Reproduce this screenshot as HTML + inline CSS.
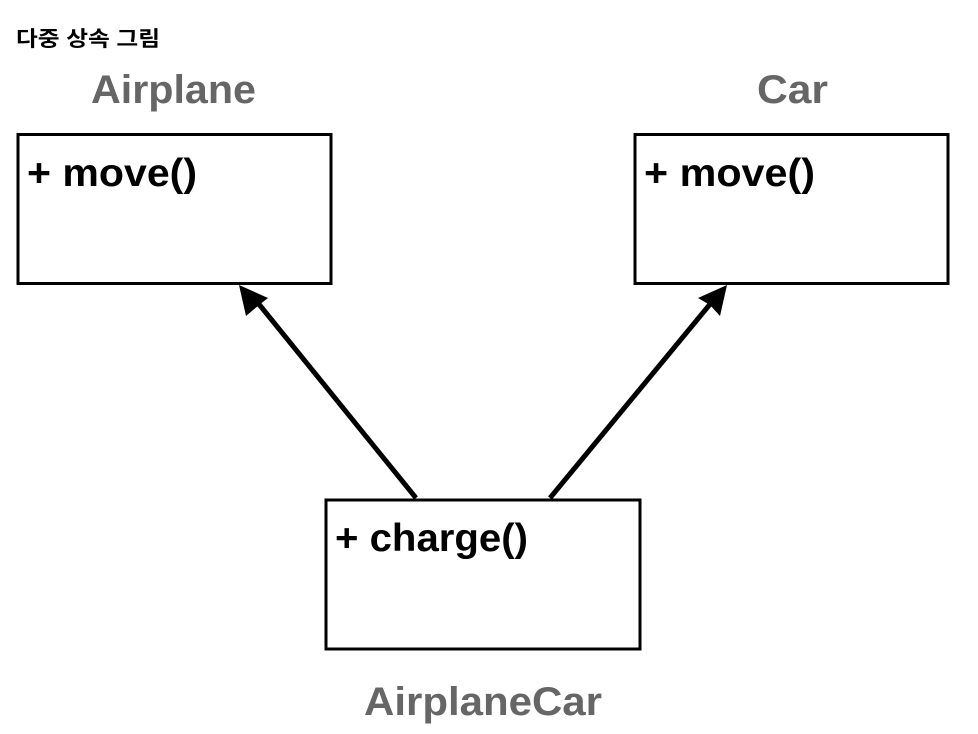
<!DOCTYPE html>
<html><head><meta charset="utf-8"><style>
html,body{margin:0;padding:0;background:#fff;}
body{width:978px;height:734px;position:relative;overflow:hidden;font-family:"Liberation Sans","Noto Sans CJK KR",sans-serif;}
</style></head><body>
<svg width="978" height="734" viewBox="0 0 978 734" xmlns="http://www.w3.org/2000/svg" style="position:absolute;left:0;top:0">
<text x="16" y="46" font-family="Liberation Sans, Noto Sans CJK KR, sans-serif" font-size="21" font-weight="bold" fill="#000" textLength="144" lengthAdjust="spacingAndGlyphs">다중 상속 그림</text>
<text x="91" y="103" font-family="Liberation Sans, sans-serif" font-size="40" font-weight="bold" fill="#666" textLength="165" lengthAdjust="spacingAndGlyphs">Airplane</text>
<text x="757" y="103" font-family="Liberation Sans, sans-serif" font-size="40" font-weight="bold" fill="#666" textLength="71" lengthAdjust="spacingAndGlyphs">Car</text>
<text x="364" y="715" font-family="Liberation Sans, sans-serif" font-size="40" font-weight="bold" fill="#666" textLength="238" lengthAdjust="spacingAndGlyphs">AirplaneCar</text>
<rect x="18" y="134.5" width="313" height="149" fill="#fff" stroke="#000" stroke-width="3"/>
<rect x="635" y="134.5" width="313" height="149" fill="#fff" stroke="#000" stroke-width="3"/>
<rect x="326" y="500" width="314" height="149" fill="#fff" stroke="#000" stroke-width="3"/>
<text x="27" y="186" font-family="Liberation Sans, sans-serif" font-size="39" font-weight="bold" fill="#000" textLength="170" lengthAdjust="spacingAndGlyphs">+ move()</text>
<text x="644" y="186" font-family="Liberation Sans, sans-serif" font-size="39" font-weight="bold" fill="#000" textLength="171" lengthAdjust="spacingAndGlyphs">+ move()</text>
<text x="335" y="551" font-family="Liberation Sans, sans-serif" font-size="39" font-weight="bold" fill="#000" textLength="193" lengthAdjust="spacingAndGlyphs">+ charge()</text>
<line x1="416" y1="498" x2="258" y2="303" stroke="#000" stroke-width="5"/>
<polygon points="239,285 268,298 259,305 246,316" fill="#000"/>
<line x1="550" y1="498" x2="711" y2="303" stroke="#000" stroke-width="5"/>
<polygon points="727,285 720,316 710,305 698,298" fill="#000"/>
</svg>
</body></html>
